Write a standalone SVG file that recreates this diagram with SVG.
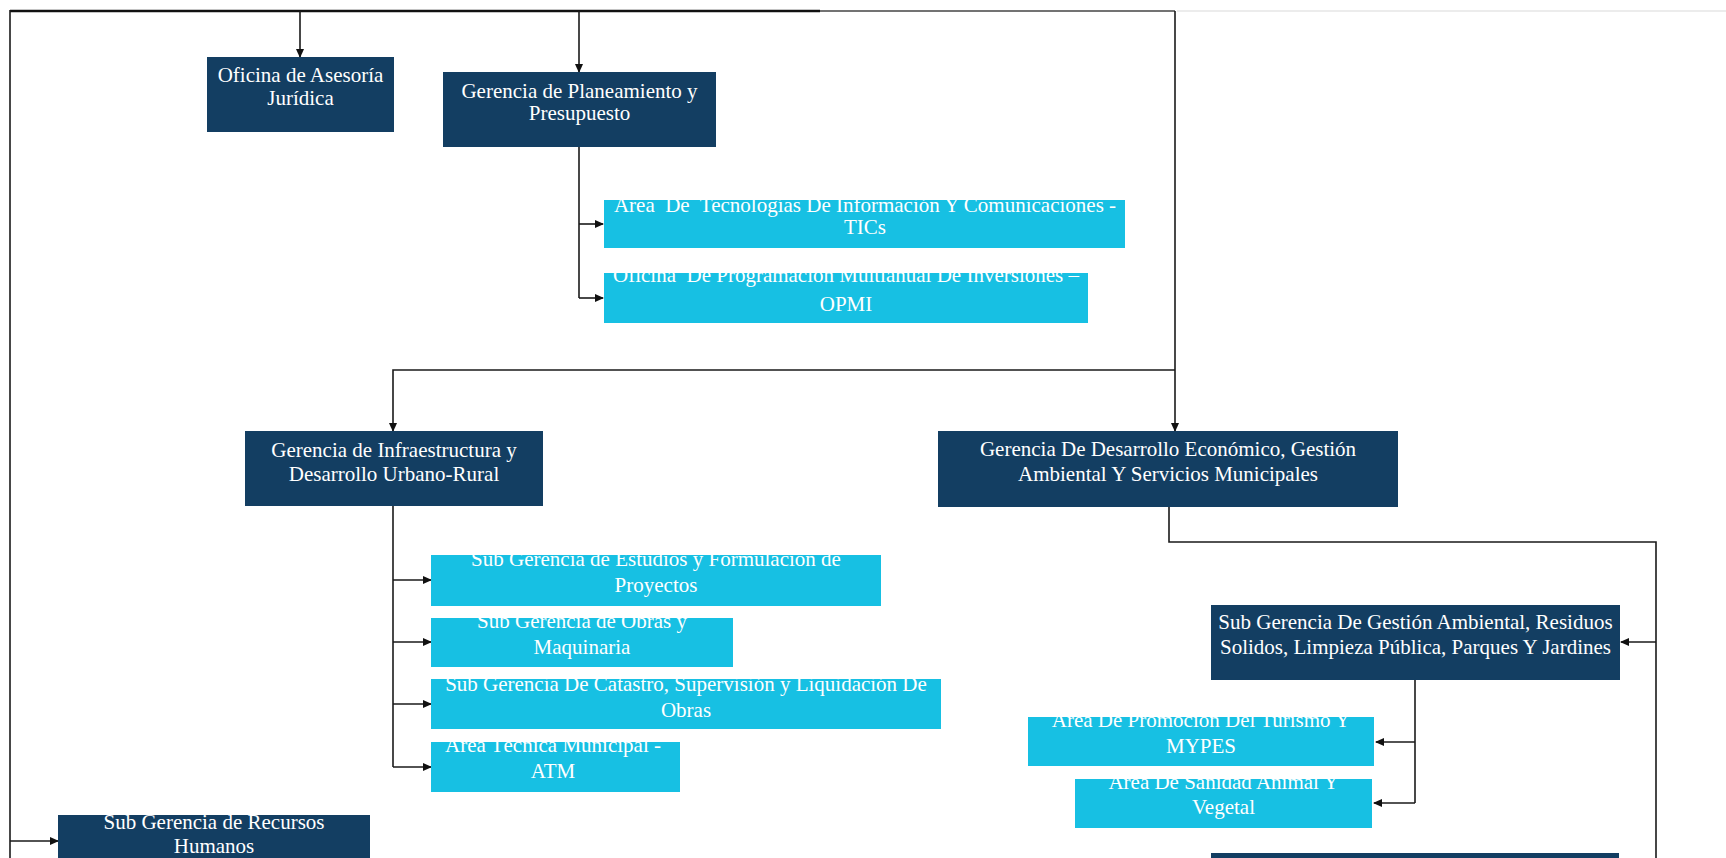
<svg xmlns="http://www.w3.org/2000/svg" width="1726" height="858" viewBox="0 0 1726 858">
<style>
  .dark { fill: #133e62; }
  .cyan { fill: #17c0e3; }
  .t { font-family: "Liberation Serif", "Times New Roman", serif; font-size: 21px; fill: #ffffff; text-anchor: middle; }
  .c { fill: none; stroke: #1a1a1a; stroke-width: 1.6; }
  .ca { fill: none; stroke: #1a1a1a; stroke-width: 1.6; marker-end: url(#ah); }
</style>
<defs>
  <marker id="ah" markerWidth="9" markerHeight="8" refX="8" refY="4" orient="auto" markerUnits="userSpaceOnUse">
    <path d="M0,0 L9,4 L0,8 z" fill="#111111"/>
  </marker>
</defs>
<rect x="0" y="0" width="1726" height="858" fill="#ffffff"/>
<line x1="1177" y1="11" x2="1726" y2="11" stroke="#ececec" stroke-width="2"/>

<g id="connectors">
  <line x1="10" y1="11" x2="820" y2="11" stroke="#111" stroke-width="2.6"/>
  <line x1="820" y1="11" x2="1175" y2="11" stroke="#444" stroke-width="1.6"/>
  <line class="c" x1="10" y1="10" x2="10" y2="858"/>
  <path class="ca" d="M300,11 V57"/>
  <path class="ca" d="M579,11 V72"/>
  <path class="c" d="M579,147 V298"/>
  <path class="ca" d="M579,224 H603"/>
  <path class="ca" d="M579,298 H603"/>
  <path class="ca" d="M1175,11 V431"/>
  <path class="ca" d="M1175,370 H393 V431"/>
  <path class="c" d="M393,506 V767"/>
  <path class="ca" d="M393,580 H431"/>
  <path class="ca" d="M393,642 H431"/>
  <path class="ca" d="M393,704 H431"/>
  <path class="ca" d="M393,767 H431"/>
  <path class="c" d="M1169,507 V542 H1656 V858"/>
  <path class="ca" d="M1656,642 H1621"/>
  <path class="c" d="M1415,680 V803"/>
  <path class="ca" d="M1415,742 H1376"/>
  <path class="ca" d="M1415,803 H1374"/>
  <path class="ca" d="M10,841 H58"/>
</g>

<g id="n-asesoria">
  <rect class="dark" x="207" y="57" width="187" height="75"/>
  <text class="t" x="300.5" y="82">Oficina de Asesoría</text>
  <text class="t" x="300.5" y="105">Jurídica</text>
</g>
<g id="n-planeamiento">
  <rect class="dark" x="443" y="72" width="273" height="75"/>
  <text class="t" x="579.5" y="98">Gerencia de Planeamiento y</text>
  <text class="t" x="579.5" y="120">Presupuesto</text>
</g>
<g id="n-tics">
  <rect class="cyan" x="604" y="200" width="521" height="48"/>
  <text class="t" x="865" y="212" xml:space="preserve">Área  De  Tecnologías De Información Y Comunicaciones -</text>
  <text class="t" x="865" y="234">TICs</text>
</g>
<g id="n-opmi">
  <rect class="cyan" x="604" y="273" width="484" height="50"/>
  <text class="t" x="846" y="282" xml:space="preserve">Oficina  De Programación Multianual De Inversiones –</text>
  <text class="t" x="846" y="311">OPMI</text>
</g>
<g id="n-infraestructura">
  <rect class="dark" x="245" y="431" width="298" height="75"/>
  <text class="t" x="394" y="457">Gerencia de Infraestructura y</text>
  <text class="t" x="394" y="481">Desarrollo Urbano-Rural</text>
</g>
<g id="n-desarrollo">
  <rect class="dark" x="938" y="431" width="460" height="76"/>
  <text class="t" x="1168" y="456">Gerencia De Desarrollo Económico, Gestión</text>
  <text class="t" x="1168" y="481">Ambiental Y Servicios Municipales</text>
</g>
<g id="n-estudios">
  <rect class="cyan" x="431" y="555" width="450" height="51"/>
  <text class="t" x="656" y="566">Sub Gerencia de Estudios y Formulación de</text>
  <text class="t" x="656" y="592">Proyectos</text>
</g>
<g id="n-obras">
  <rect class="cyan" x="431" y="618" width="302" height="49"/>
  <text class="t" x="582" y="628">Sub Gerencia de Obras y</text>
  <text class="t" x="582" y="654">Maquinaria</text>
</g>
<g id="n-catastro">
  <rect class="cyan" x="431" y="679" width="510" height="50"/>
  <text class="t" x="686" y="691">Sub Gerencia De Catastro, Supervisión y Liquidación De</text>
  <text class="t" x="686" y="717">Obras</text>
</g>
<g id="n-atm">
  <rect class="cyan" x="431" y="742" width="249" height="50"/>
  <text class="t" x="553" y="752">Área Técnica Municipal -</text>
  <text class="t" x="553" y="778">ATM</text>
</g>
<g id="n-gestion-ambiental">
  <rect class="dark" x="1211" y="605" width="409" height="75"/>
  <text class="t" x="1415.5" y="629">Sub Gerencia De Gestión Ambiental, Residuos</text>
  <text class="t" x="1415.5" y="654">Solidos, Limpieza Pública, Parques Y Jardines</text>
</g>
<g id="n-turismo">
  <rect class="cyan" x="1028" y="717" width="346" height="49"/>
  <text class="t" x="1201" y="727">Área De Promoción Del Turismo Y</text>
  <text class="t" x="1201" y="753">MYPES</text>
</g>
<g id="n-sanidad">
  <rect class="cyan" x="1075" y="779" width="297" height="49"/>
  <text class="t" x="1223.5" y="789">Área De Sanidad Animal Y</text>
  <text class="t" x="1223.5" y="814">Vegetal</text>
</g>
<g id="n-recursos-humanos">
  <rect class="dark" x="58" y="815" width="312" height="50"/>
  <text class="t" x="214" y="829">Sub Gerencia de Recursos</text>
  <text class="t" x="214" y="853">Humanos</text>
</g>
<g id="n-bottom-right">
  <rect class="dark" x="1211" y="853" width="408" height="10"/>
</g>
</svg>
